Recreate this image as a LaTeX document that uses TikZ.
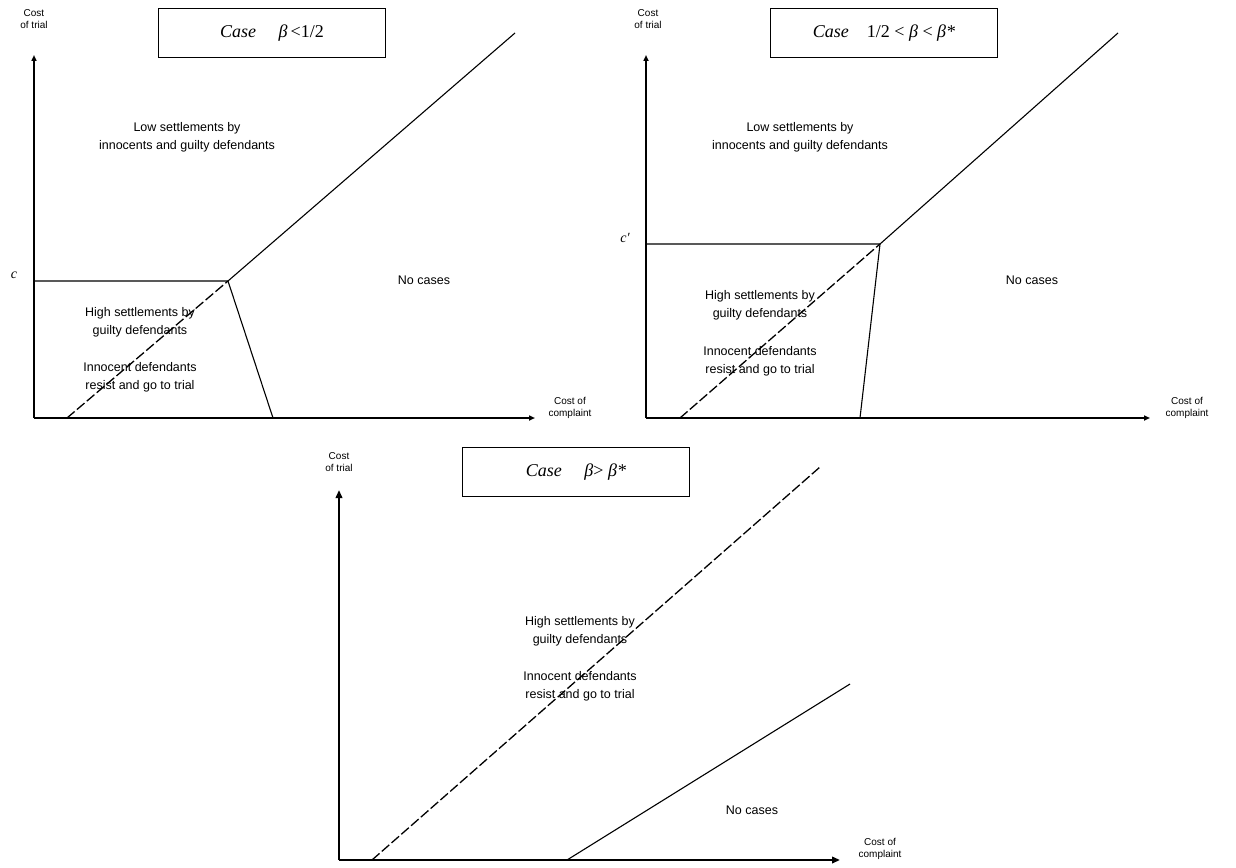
\documentclass[tikz,border=0pt]{standalone}
\usepackage{fontspec}
\setmainfont{Liberation Sans}
\newfontfamily\serifit{Liberation Serif}
\usetikzlibrary{arrows.meta}
\begin{document}
\begin{tikzpicture}[x=1pt,y=-1pt,
  axis/.style={line width=1.7pt,-{Triangle[length=6pt,width=5pt]}},
  thickaxis/.style={line width=2.8pt,-{Triangle[length=8pt,width=6.5pt]}},
  thin/.style={line width=1.1pt},
  dashline/.style={line width=1.3pt,dash pattern=on 10pt off 3pt},
  region/.style={font=\fontsize{12.5}{18}\selectfont, align=center, inner sep=0pt},
  axlab/.style={font=\fontsize{10}{12.5}\selectfont, align=center, inner sep=0pt},
  titlebox/.style={draw, line width=1.1pt, minimum width=227pt, minimum height=49pt, inner sep=0pt, font=\serifit\fontsize{18}{20}\selectfont},
  clab/.style={font=\serifit\itshape\fontsize{14}{16}\selectfont, inner sep=0pt}
]
\useasboundingbox (0,0) rectangle (1236,867);

% ---------- Panel 1 ----------
\coordinate (o1) at (34,418);
\coordinate (y1) at (34,55);
\coordinate (x1) at (535,418);
\coordinate (c1) at (34,281);
\coordinate (k1) at (228,281);
\coordinate (b1) at (273,418);
\coordinate (d1) at (67,418);
\coordinate (e1) at (515,33);
\draw[axis] (o1) -- (y1);
\draw[axis] (o1) -- (x1);
\draw[thin] (c1) -- (k1) -- (b1);
\draw[dashline] (d1) -- (k1);
\draw[thin] (k1) -- (e1);
\node[axlab] (yl1) at (34,19) {Cost\\of trial};
\node[axlab] (xl1) at (570,408) {Cost of\\complaint};
\node[titlebox] (t1) at (272,33) {\itshape Case\quad\  β\,{\upshape <1/2}};
\node[clab] (cl1) at (14,275) {c};
\node[region] (low1) at (187,137) {Low settlements by\\innocents and guilty defendants};
\node[region] (no1) at (424,280) {No cases};
\node[region] (high1) at (140,322) {High settlements by\\guilty defendants};
\node[region] (inn1) at (140,377) {Innocent defendants\\resist and go to trial};

% ---------- Panel 2 ----------
\coordinate (o2) at (646,418);
\coordinate (y2) at (646,55);
\coordinate (x2) at (1150,418);
\coordinate (c2) at (646,244);
\coordinate (k2) at (880,244);
\coordinate (b2) at (860,418);
\coordinate (d2) at (680,418);
\coordinate (e2) at (1118,33);
\draw[axis] (o2) -- (y2);
\draw[axis] (o2) -- (x2);
\draw[thin] (c2) -- (k2) -- (b2);
\draw[dashline] (d2) -- (k2);
\draw[thin] (k2) -- (e2);
\node[axlab] (yl2) at (648,19) {Cost\\of trial};
\node[axlab] (xl2) at (1187,408) {Cost of\\complaint};
\node[titlebox] (t2) at (884,33) {\itshape Case\quad {\upshape 1/2 <} β {\upshape <} β*};
\node[clab] (cl2) at (625,238) {c′};
\node[region] (low2) at (800,137) {Low settlements by\\innocents and guilty defendants};
\node[region] (no2) at (1032,280) {No cases};
\node[region] (high2) at (760,305) {High settlements by\\guilty defendants};
\node[region] (inn2) at (760,361) {Innocent defendants\\resist and go to trial};

% ---------- Panel 3 ----------
\coordinate (o3) at (339,860);
\coordinate (y3) at (339,490);
\coordinate (x3) at (840,860);
\coordinate (d3) at (372,860);
\coordinate (e3) at (820,467);
\coordinate (s3) at (567,860);
\coordinate (f3) at (850,684);
\draw[thickaxis] (o3) -- (y3);
\draw[thickaxis] (o3) -- (x3);
\draw[dashline] (d3) -- (e3);
\draw[thin] (s3) -- (f3);
\node[axlab] (yl3) at (339,462) {Cost\\of trial};
\node[axlab] (xl3) at (880,849) {Cost of\\complaint};
\node[titlebox] (t3) at (576,472) {\itshape Case\quad\  β{\upshape >} β*};
\node[region] (high3) at (580,631) {High settlements by\\guilty defendants};
\node[region] (inn3) at (580,686) {Innocent defendants\\resist and go to trial};
\node[region] (no3) at (752,810) {No cases};
\end{tikzpicture}
\end{document}
